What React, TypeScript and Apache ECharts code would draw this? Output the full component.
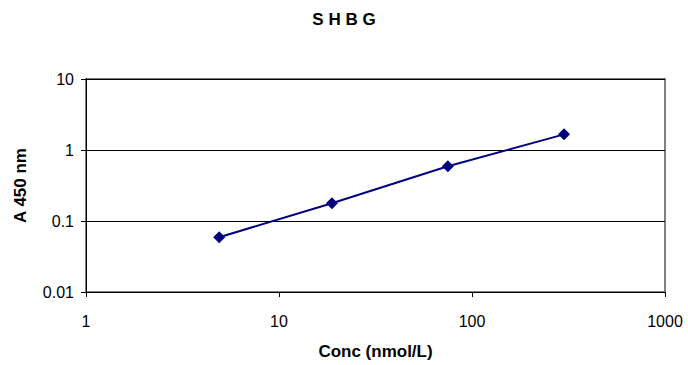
import React, { useEffect, useRef } from "react";
import * as echarts from "echarts";

const title = "S H B G";
const xName = "Conc (nmol/L)";
const yName = "A 450 nm";
const concentrations = [4.9, 18.8, 75, 300];
const absorbance = [0.059, 0.178, 0.589, 1.66];

export default function App() {
  const ref = useRef<HTMLDivElement>(null);
  useEffect(() => {
    if (!ref.current) return;
    const chart = echarts.init(ref.current, null, { renderer: "svg" });
    const font = "'Liberation Sans', Arial, sans-serif";
    const fmt = (v: number) => String(Number(v.toPrecision(6)));
    chart.setOption({
      animation: false,
      backgroundColor: "#ffffff",
      title: {
        text: title,
        left: "center",
        top: 6,
        textStyle: { fontFamily: font, fontSize: 17, fontWeight: "bold", color: "#000" },
      },
      grid: {
        left: 86,
        right: 23,
        top: 79,
        bottom: 66,
        show: true,
        borderColor: "#808080",
        borderWidth: 2,
        backgroundColor: "transparent",
      },
      xAxis: {
        type: "log",
        logBase: 10,
        min: 1,
        max: 1000,
        name: xName,
        nameLocation: "middle",
        nameGap: 51,
        nameTextStyle: { fontFamily: font, fontSize: 17, fontWeight: "bold", color: "#000" },
        axisLine: { show: true, lineStyle: { color: "#000", width: 1 } },
        axisTick: { show: true, length: 5, lineStyle: { color: "#000" } },
        minorTick: { show: false },
        axisLabel: {
          fontFamily: font,
          fontSize: 16,
          color: "#000",
          margin: 21,
          showMinLabel: true,
          showMaxLabel: true,
          formatter: fmt,
        },
        splitLine: { show: false },
      },
      yAxis: {
        type: "log",
        logBase: 10,
        min: 0.01,
        max: 10,
        name: yName,
        nameLocation: "middle",
        nameGap: 57,
        nameTextStyle: { fontFamily: font, fontSize: 17, fontWeight: "bold", color: "#000" },
        axisLine: { show: true, lineStyle: { color: "#000", width: 1 } },
        axisTick: { show: true, length: 5, lineStyle: { color: "#000" } },
        axisLabel: {
          fontFamily: font,
          fontSize: 16,
          color: "#000",
          margin: 12,
          formatter: fmt,
        },
        splitLine: { show: true, lineStyle: { color: "#000", width: 1 } },
      },
      series: [
        {
          type: "line",
          data: concentrations.map((c, i) => [c, absorbance[i]]),
          symbol: "diamond",
          symbolSize: 12,
          lineStyle: { color: "#000080", width: 2 },
          itemStyle: { color: "#000080" },
        },
      ],
    });
    return () => chart.dispose();
  }, []);
  return (
    <div
      ref={ref}
      style={{ position: "fixed", left: 0, top: 0, width: 688, height: 365 }}
    />
  );
}
